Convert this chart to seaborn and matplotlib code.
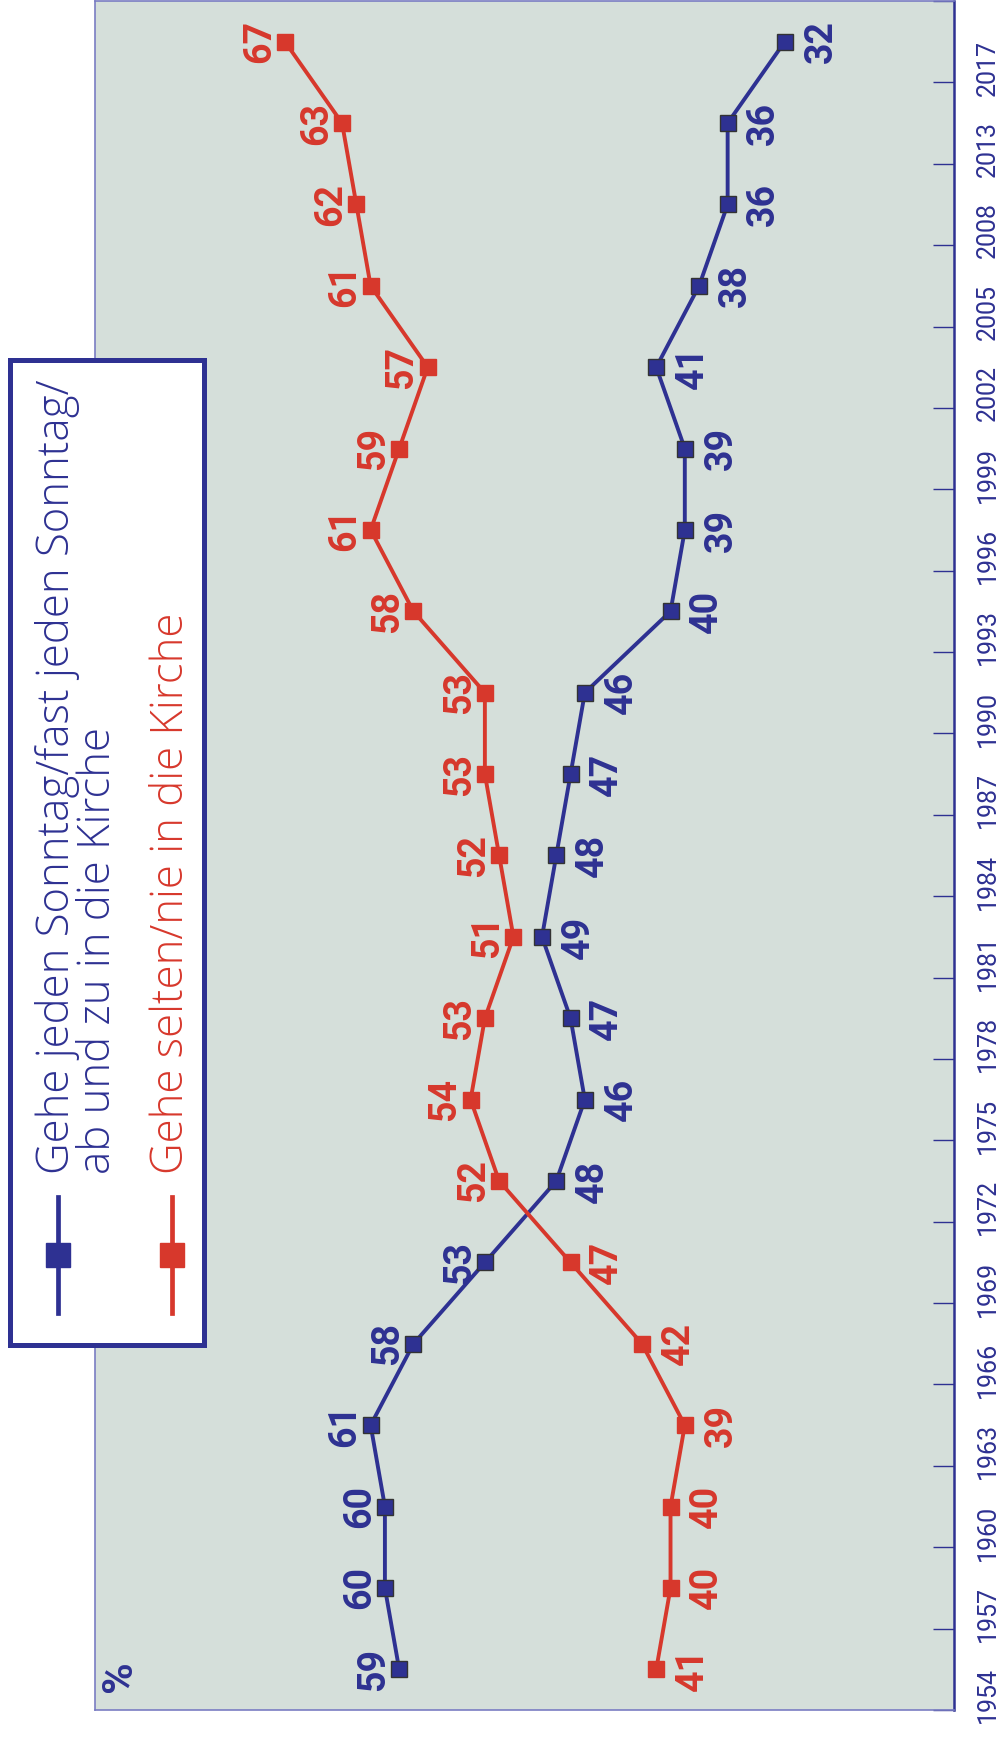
import numpy as np
import pandas as pd
import matplotlib
matplotlib.use("Agg")
import matplotlib.pyplot as plt
import seaborn as sns
from matplotlib.patches import Rectangle
from matplotlib.lines import Line2D

# ---------------- data ----------------
years = ["1954", "1957", "1960", "1963", "1966", "1969", "1972", "1975", "1978",
         "1981", "1984", "1987", "1990", "1993", "1996", "1999", "2002", "2005",
         "2008", "2013", "2017"]
regular = [59, 60, 60, 61, 58, 53, 48, 46, 47, 49, 48, 47, 46, 40, 39, 39, 41, 38, 36, 36, 32]
rarely = [41, 40, 40, 39, 42, 47, 52, 54, 53, 51, 52, 53, 53, 58, 61, 59, 57, 61, 62, 63, 67]
legend_regular = "Gehe jeden Sonntag/fast jeden Sonntag/\nab und zu in die Kirche"
legend_rarely = "Gehe selten/nie in die Kirche"
unit_label = "%"

# ---------------- style ----------------
NAVY = "#2e3192"
RED = "#d7382c"
FRAME = "#7a7dc2"
BG = "#d5dfda"
FONT = ["Roboto", "DejaVu Sans"]
LEGFONT = ["Open Sans", "Roboto", "DejaVu Sans"]

W, H = 1006, 1737
fig = plt.figure(figsize=(W / 100, H / 100), dpi=100)
fig.patch.set_facecolor("white")

def fx(px):
    return px / W

def fy(py):
    return 1 - py / H

ax = fig.add_axes([fx(95), fy(1710), fx(954) - fx(95), fy(1) - fy(1710)])
ax.set_facecolor(BG)

pos = np.arange(len(years))
df = pd.DataFrame({
    "pos": np.concatenate([pos, pos]),
    "value": regular + rarely,
    "series": ["regular"] * len(years) + ["rarely"] * len(years),
})

for name, color, mec in [("regular", NAVY, "#333333"), ("rarely", RED, RED)]:
    sns.lineplot(data=df[df["series"] == name], x="value", y="pos", orient="y",
                 color=color, linewidth=2.8, marker="s", markersize=12,
                 markeredgecolor=mec, markeredgewidth=1.0, ax=ax, legend=False,
                 zorder=3)

ax.set_xlim(80.3, 20.15)
ax.set_ylim(-0.5, 20.5)
ax.set_xlabel("")
ax.set_ylabel("")

# axes ticks
ax.tick_params(axis="x", bottom=False, labelbottom=False, top=False)
ax.yaxis.tick_right()
ax.set_yticks(pos - 0.32)
ax.set_yticklabels(years)
ax.set_yticks(np.arange(-0.5, 21.0, 1.0), minor=True)
ax.tick_params(axis="y", which="major", length=0, pad=16, right=True, left=False)
ax.tick_params(axis="y", which="minor", length=15, width=1.0, color=NAVY,
               direction="in", right=True, left=False)
for lab in ax.get_yticklabels():
    lab.set_rotation(90)
    lab.set_fontsize(18)
    lab.set_color(NAVY)
    lab.set_family(FONT)
    lab.set_fontweight("normal")
    lab.set_va("center")

for side in ["left", "top", "bottom"]:
    ax.spines[side].set_color(FRAME)
    ax.spines[side].set_linewidth(1.2)
ax.spines["right"].set_color(NAVY)
ax.spines["right"].set_linewidth(1.8)

# value labels
for i in range(len(years)):
    b, r = regular[i], rarely[i]
    b_left = b > r
    for v, col, left in [(b, NAVY, b_left), (r, RED, not b_left)]:
        dx = -18.5 if left else 26
        ax.annotate(str(v), xy=(v, pos[i]), xytext=(dx, 0), textcoords="offset points",
                    ha="center", va="center", rotation=90, fontsize=27,
                    fontweight="bold", color=col, family=FONT, zorder=4)

ax.text(0.028, 0.02, unit_label, transform=ax.transAxes, rotation=90,
        ha="center", va="center", fontsize=31, fontweight="bold", color=NAVY,
        family=FONT)

# ---------------- legend (drawn rotated, as in the reference) ----------------
rect = Rectangle((fx(9.5), fy(1344.5)), fx(204.5) - fx(9.5), fy(359.5) - fy(1344.5),
                 transform=fig.transFigure, facecolor="white", edgecolor=NAVY,
                 linewidth=3.6, zorder=5)
fig.add_artist(rect)

for xc, col, mec in [(58, NAVY, NAVY), (172, RED, RED)]:
    fig.add_artist(Line2D([fx(xc), fx(xc)], [fy(1313), fy(1197)], color=col,
                          linewidth=3.4, transform=fig.transFigure, zorder=6))
    fig.add_artist(Line2D([fx(xc)], [fy(1255)], color=col, marker="s",
                          markersize=17, markeredgecolor=mec, linestyle="none",
                          transform=fig.transFigure, zorder=7))

leg_kw = dict(rotation=90, va="bottom", fontsize=31.5, fontweight="light",
              family=LEGFONT, transform=fig.transFigure, zorder=8)
fig.text(fx(78), fy(1174), legend_regular, color=NAVY, ha="center",
         multialignment="left", linespacing=0.9, **leg_kw)
fig.text(fx(172), fy(1174), legend_rarely, color=RED, ha="center", **leg_kw)

fig.savefig("out.png", dpi=100, facecolor="white")
